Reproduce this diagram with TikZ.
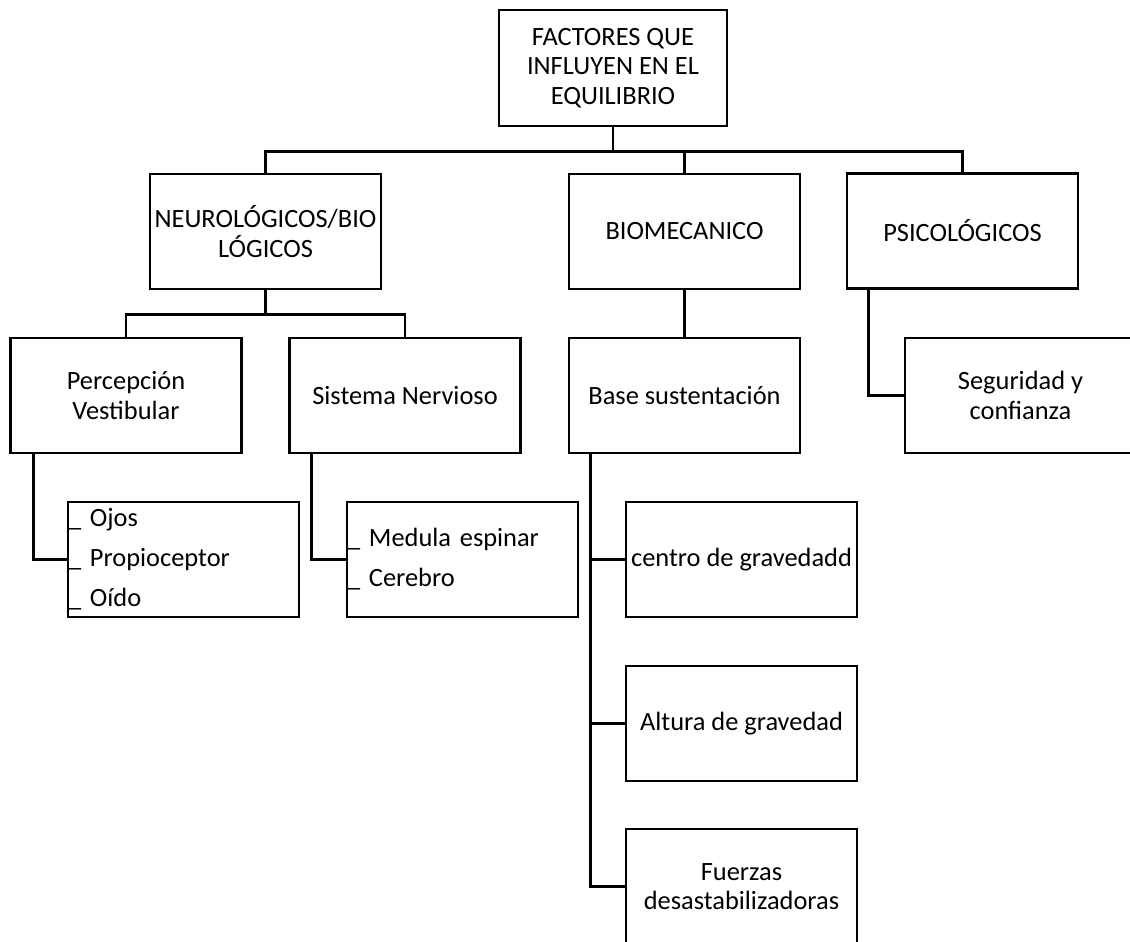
\documentclass[tikz,border=0pt]{standalone}
\usepackage{fontspec}
\setmainfont{Carlito}
\usetikzlibrary{positioning}

\tikzset{
    caja/.style={draw, line width=2.8pt, minimum width=231pt, minimum height=115pt,
        align=center, inner sep=2pt, font=\fontsize{26.4}{29.5}\selectfont},
    lista/.style={caja, align=left, inner xsep=0pt, text width=231pt,
        font=\fontsize{26.4}{40}\selectfont},
    linea/.style={line width=2.8pt},
}

\begin{document}
\begin{tikzpicture}[x=1pt, y=-1pt]
\clip (0,0) rectangle (1130,942);

\node[caja, minimum width=228pt, minimum height=116pt] (factores) at (613,68)
    {FACTORES QUE\\INFLUYEN EN EL\\EQUILIBRIO};

\node[caja] (neuro) at (265.5,231.5) {NEUROLÓGICOS/BIO\\LÓGICOS};
\node[caja] (bio) at (684.5,231.5) {BIOMECANICO};
\node[caja] (psico) at (962.5,231) {PSICOLÓGICOS};

\node[caja] (percep) at (126,395.5) {Percepción\\Vestibular};
\node[caja] (sistema) at (405,395.5) {Sistema Nervioso};
\node[caja] (base) at (684.5,395.5) {Base sustentación};
\node[caja] (segur) at (1020.5,395.5) {Seguridad y\\confianza};

\node[lista] (ojos) at (183.5,559.5) {\_ Ojos\\\_ Propioceptor\\\_ Oído};
\node[lista] (medula) at (462.5,559.5) {\_ Medula espinar\\\_ Cerebro};

\node[caja] (centro) at (741.5,559.5) {centro de gravedadd};
\node[caja] (altura) at (741.5,723.5) {Altura de gravedad};
\node[caja] (fuerzas) at (741.5,886.5) {Fuerzas\\desastabilizadoras};

    % ramas principales
    \draw[linea] (factores.south) -- ++(0,24) coordinate (nudo1);
    \foreach \n in {neuro,bio,psico}
    \draw[linea] (nudo1) -| (\n.north);

    \draw[linea] (neuro.south) -- ++(0,24) coordinate (nudo2);
    \foreach \n in {percep,sistema}
    \draw[linea] (nudo2) -| (\n.north);

    \draw[linea] (bio) -- (base);
    \draw[linea] ([xshift=23pt]psico.south west) |- (segur.west);

    % listas
    \draw[linea] ([xshift=24pt]percep.south west) |- (ojos.west);
    \draw[linea] ([xshift=23pt]sistema.south west) |- (medula.west);

    \foreach \n in {centro,altura,fuerzas}
    \draw[linea] ([xshift=23pt]base.south west) |- (\n.west);

\end{tikzpicture}
\end{document}
